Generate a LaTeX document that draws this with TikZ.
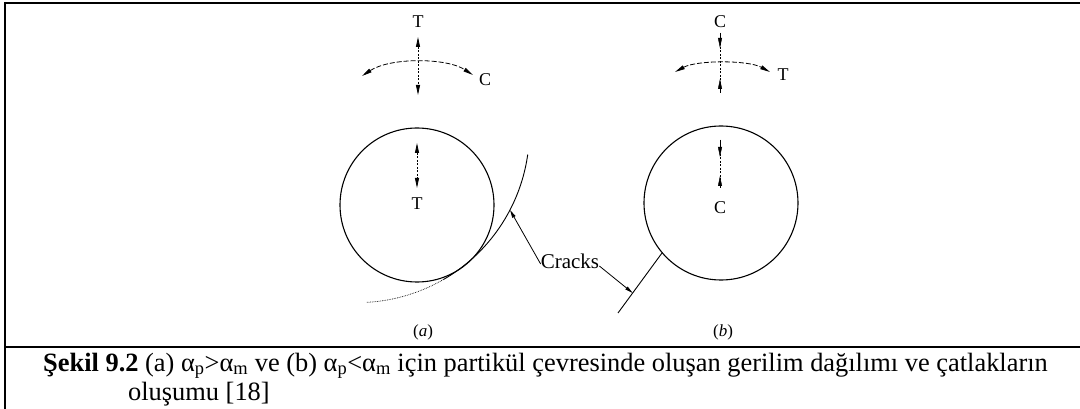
\documentclass[tikz,border=0pt]{standalone}
\usepackage{fontspec}
\setmainfont{Liberation Serif}
\usetikzlibrary{arrows.meta}
\begin{document}
\begin{tikzpicture}[x=1pt,y=-1pt,
  frame/.style={line width=2pt},
  particle/.style={circle,draw,line width=1.1pt,minimum size=154pt,inner sep=0pt},
  lbl/.style={font=\fontsize{18}{18}\selectfont, inner sep=0pt},
  sublbl/.style={font=\fontsize{17}{17}\selectfont, inner sep=0pt},
  crlbl/.style={font=\fontsize{21}{21}\selectfont, inner sep=0pt},
  onetip/.style={-{Triangle[length=10pt,width=4pt]}},
  twotip/.style={{Triangle[length=10pt,width=4pt]}-{Triangle[length=10pt,width=4pt]}},
  stressarc/.style={line width=0.8pt, dash pattern=on 5pt off 2pt},
  stressline/.style={line width=0.8pt, dash pattern=on 2pt off 1.5pt},
  crack/.style={line width=0.9pt},
  lead/.style={line width=0.8pt,-{Triangle[length=8pt,width=3.5pt]}},
  capt/.style={font=\fontsize{26.4}{29}\selectfont, inner sep=0pt, anchor=base west}]
\useasboundingbox (0,0) rectangle (1080,409);
\fill[white] (0,0) rectangle (1080,409);
% frame
\draw[frame] (4,3) -- (1080,3);
\draw[frame] (5,2) -- (5,409);
\draw[frame] (4,347) -- (1080,347);

% ---------- (a) ----------
\node[lbl] (aT) at (418,22) {T};
\coordinate (aU) at (418,37);
\coordinate (aD) at (418,95);
\draw[stressline,twotip] (aU) -- (aD);
\coordinate (aL) at (362,76);
\coordinate (aR) at (473,75);
\draw[stressarc,twotip] (aL) .. controls (390,57.5) and (446,57.5) .. (aR);
\node[lbl] (aC) at (485,80) {C};
\node[particle] (pa) at (417,205) {};
\coordinate (aiU) at (417,143);
\coordinate (aiD) at (417,188);
\draw[stressline,twotip] (aiU) -- (aiD);
\node[lbl] (aT2) at (417,204) {T};
\draw[crack] plot[domain=8:60,samples=60] ({357.4+172*cos(\x)},{130.6+172*sin(\x)});
\draw[line width=0.7pt, densely dotted] plot[domain=60:87,samples=40] ({357.4+172*cos(\x)},{130.6+172*sin(\x)});
\node[sublbl] (alab) at (423,332) {(\textit{a})};

% ---------- (b) ----------
\node[lbl] (bC) at (720,22) {C};
\coordinate (bU) at (720,33);
\coordinate (bUt) at (720,48);
\coordinate (bD) at (720,93);
\coordinate (bDt) at (720,79);
\draw[stressline] (bU) -- (bD);
\draw[onetip] (bU) -- (bUt);
\draw[onetip] (bD) -- (bDt);
\coordinate (bL) at (675,72);
\coordinate (bR) at (770,72);
\draw[stressarc,twotip] (bL) .. controls (697,60) and (748,60) .. (bR);
\node[lbl] (bT) at (783,75) {T};
\node[particle] (pb) at (721,203) {};
\coordinate (biU) at (720,140);
\coordinate (biUt) at (720,157);
\coordinate (biD) at (720,188);
\coordinate (biDt) at (720,176);
\draw[stressline] (biU) -- (biD);
\draw[onetip] (biU) -- (biUt);
\draw[onetip] (biD) -- (biDt);
\node[lbl] (bC2) at (720,208) {C};
\coordinate (cb1) at (662,253);
\coordinate (cb2) at (618,313);
\draw[crack] (cb1) -- (cb2);
\node[sublbl] (blab) at (723,332) {(\textit{b})};

% ---------- cracks label ----------
\node[crlbl] (cr) at (570,261) {Cracks};
\coordinate (ta) at (510,210);
\coordinate (tb) at (632.7,293);
\draw[lead] ([yshift=-3pt]cr.west) -- (ta);
\draw[lead] ([yshift=-5pt]cr.east) -- (tb);

% ---------- caption ----------
\node[capt] (cap1) at (43,371) {\textbf{Şekil 9.2} (a) α\textsubscript{p}>α\textsubscript{m} ve (b) α\textsubscript{p}<α\textsubscript{m} için partikül çevresinde oluşan gerilim dağılımı ve çatlakların};
\node[capt] (cap2) at (128,400) {oluşumu [18]};
\end{tikzpicture}
\end{document}
